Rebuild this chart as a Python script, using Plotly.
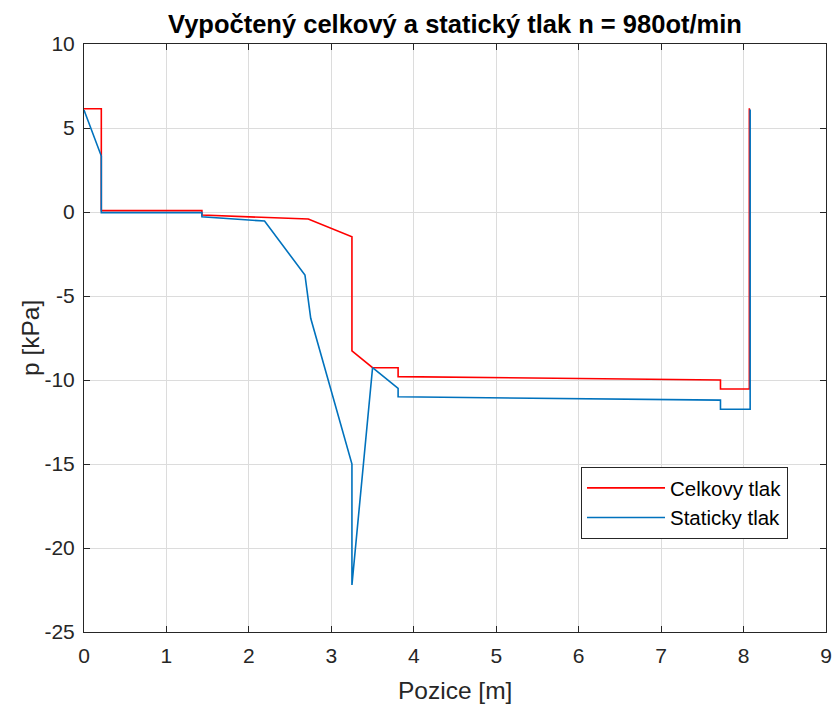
import plotly.graph_objects as go

# Position along the duct [m]
pos_celkovy = [0.0, 0.21, 0.21, 1.43, 1.43, 2.72, 3.25, 3.25, 3.50, 3.81, 3.81, 7.72, 7.72, 8.07, 8.07]
# Total pressure [kPa]
p_celkovy = [6.15, 6.15, 0.08, 0.08, -0.18, -0.42, -1.47, -8.27, -9.27, -9.27, -9.80, -10.00, -10.54, -10.54, 6.18]

pos_staticky = [0.0, 0.21, 0.21, 1.43, 1.43, 2.19, 2.68, 2.75, 3.25, 3.25, 3.50, 3.81, 3.81, 7.72, 7.72, 8.08, 8.08]
# Static pressure [kPa]
p_staticky = [6.07, 3.33, -0.04, -0.04, -0.28, -0.54, -3.75, -6.33, -15.0, -22.2, -9.27, -10.5, -11.0, -11.2, -11.74, -11.74, 6.1]

x_ticks = list(range(0, 10))
y_ticks = list(range(-25, 15, 5))
y_ticktext = [str(v) for v in y_ticks]  # plain hyphen minus

FONT = "Liberation Sans, Arial, sans-serif"
AX = "#262626"

fig = go.Figure()
fig.add_trace(go.Scatter(x=pos_celkovy, y=p_celkovy, mode="lines", name="Celkovy tlak",
                         line=dict(color="#ff0000", width=1.6)))
fig.add_trace(go.Scatter(x=pos_staticky, y=p_staticky, mode="lines", name="Staticky tlak",
                         line=dict(color="#0072bd", width=1.6)))

axis_common = dict(showline=True, linecolor=AX, linewidth=1, mirror="ticks",
                   ticks="inside", ticklen=6, tickcolor=AX, automargin=False,
                   showgrid=True, gridcolor="#dcdcdc", gridwidth=1, zeroline=False,
                   tickfont=dict(family=FONT, size=21, color=AX))

fig.update_layout(
    width=836, height=707,
    paper_bgcolor="white", plot_bgcolor="white",
    margin=dict(l=84, r=10, t=44, b=75),
    title=dict(text="<b>Vypočtený celkový a statický tlak n = 980ot/min</b>",
               xref="paper", x=0.5, xanchor="center", y=1 - 24 / 707, yanchor="middle",
               font=dict(family=FONT, size=25.5, color="black")),
    xaxis=dict(range=[0, 9], tickvals=x_ticks, ticklabelstandoff=5, **axis_common),
    yaxis=dict(range=[-25, 10], tickvals=y_ticks, ticktext=y_ticktext,
               ticklabelstandoff=4, **axis_common),
    legend=dict(x=(581 - 84) / 742, y=(632 - 467) / 588, xanchor="left", yanchor="top",
                bgcolor="white", bordercolor=AX, borderwidth=1, itemwidth=78,
                font=dict(family=FONT, size=20.5, color="black")),
    showlegend=True,
    annotations=[
        dict(text="Pozice [m]", xref="paper", yref="paper", x=0.5, y=-(690 - 632) / 588,
             xanchor="center", yanchor="middle", showarrow=False,
             font=dict(family=FONT, size=24.5, color=AX)),
        dict(text="p [kPa]", xref="paper", yref="paper", x=-(84 - 30) / 742, y=0.5,
             xanchor="center", yanchor="middle", showarrow=False, textangle=-90,
             font=dict(family=FONT, size=24.5, color=AX)),
    ],
)

fig.write_html("out.html")
